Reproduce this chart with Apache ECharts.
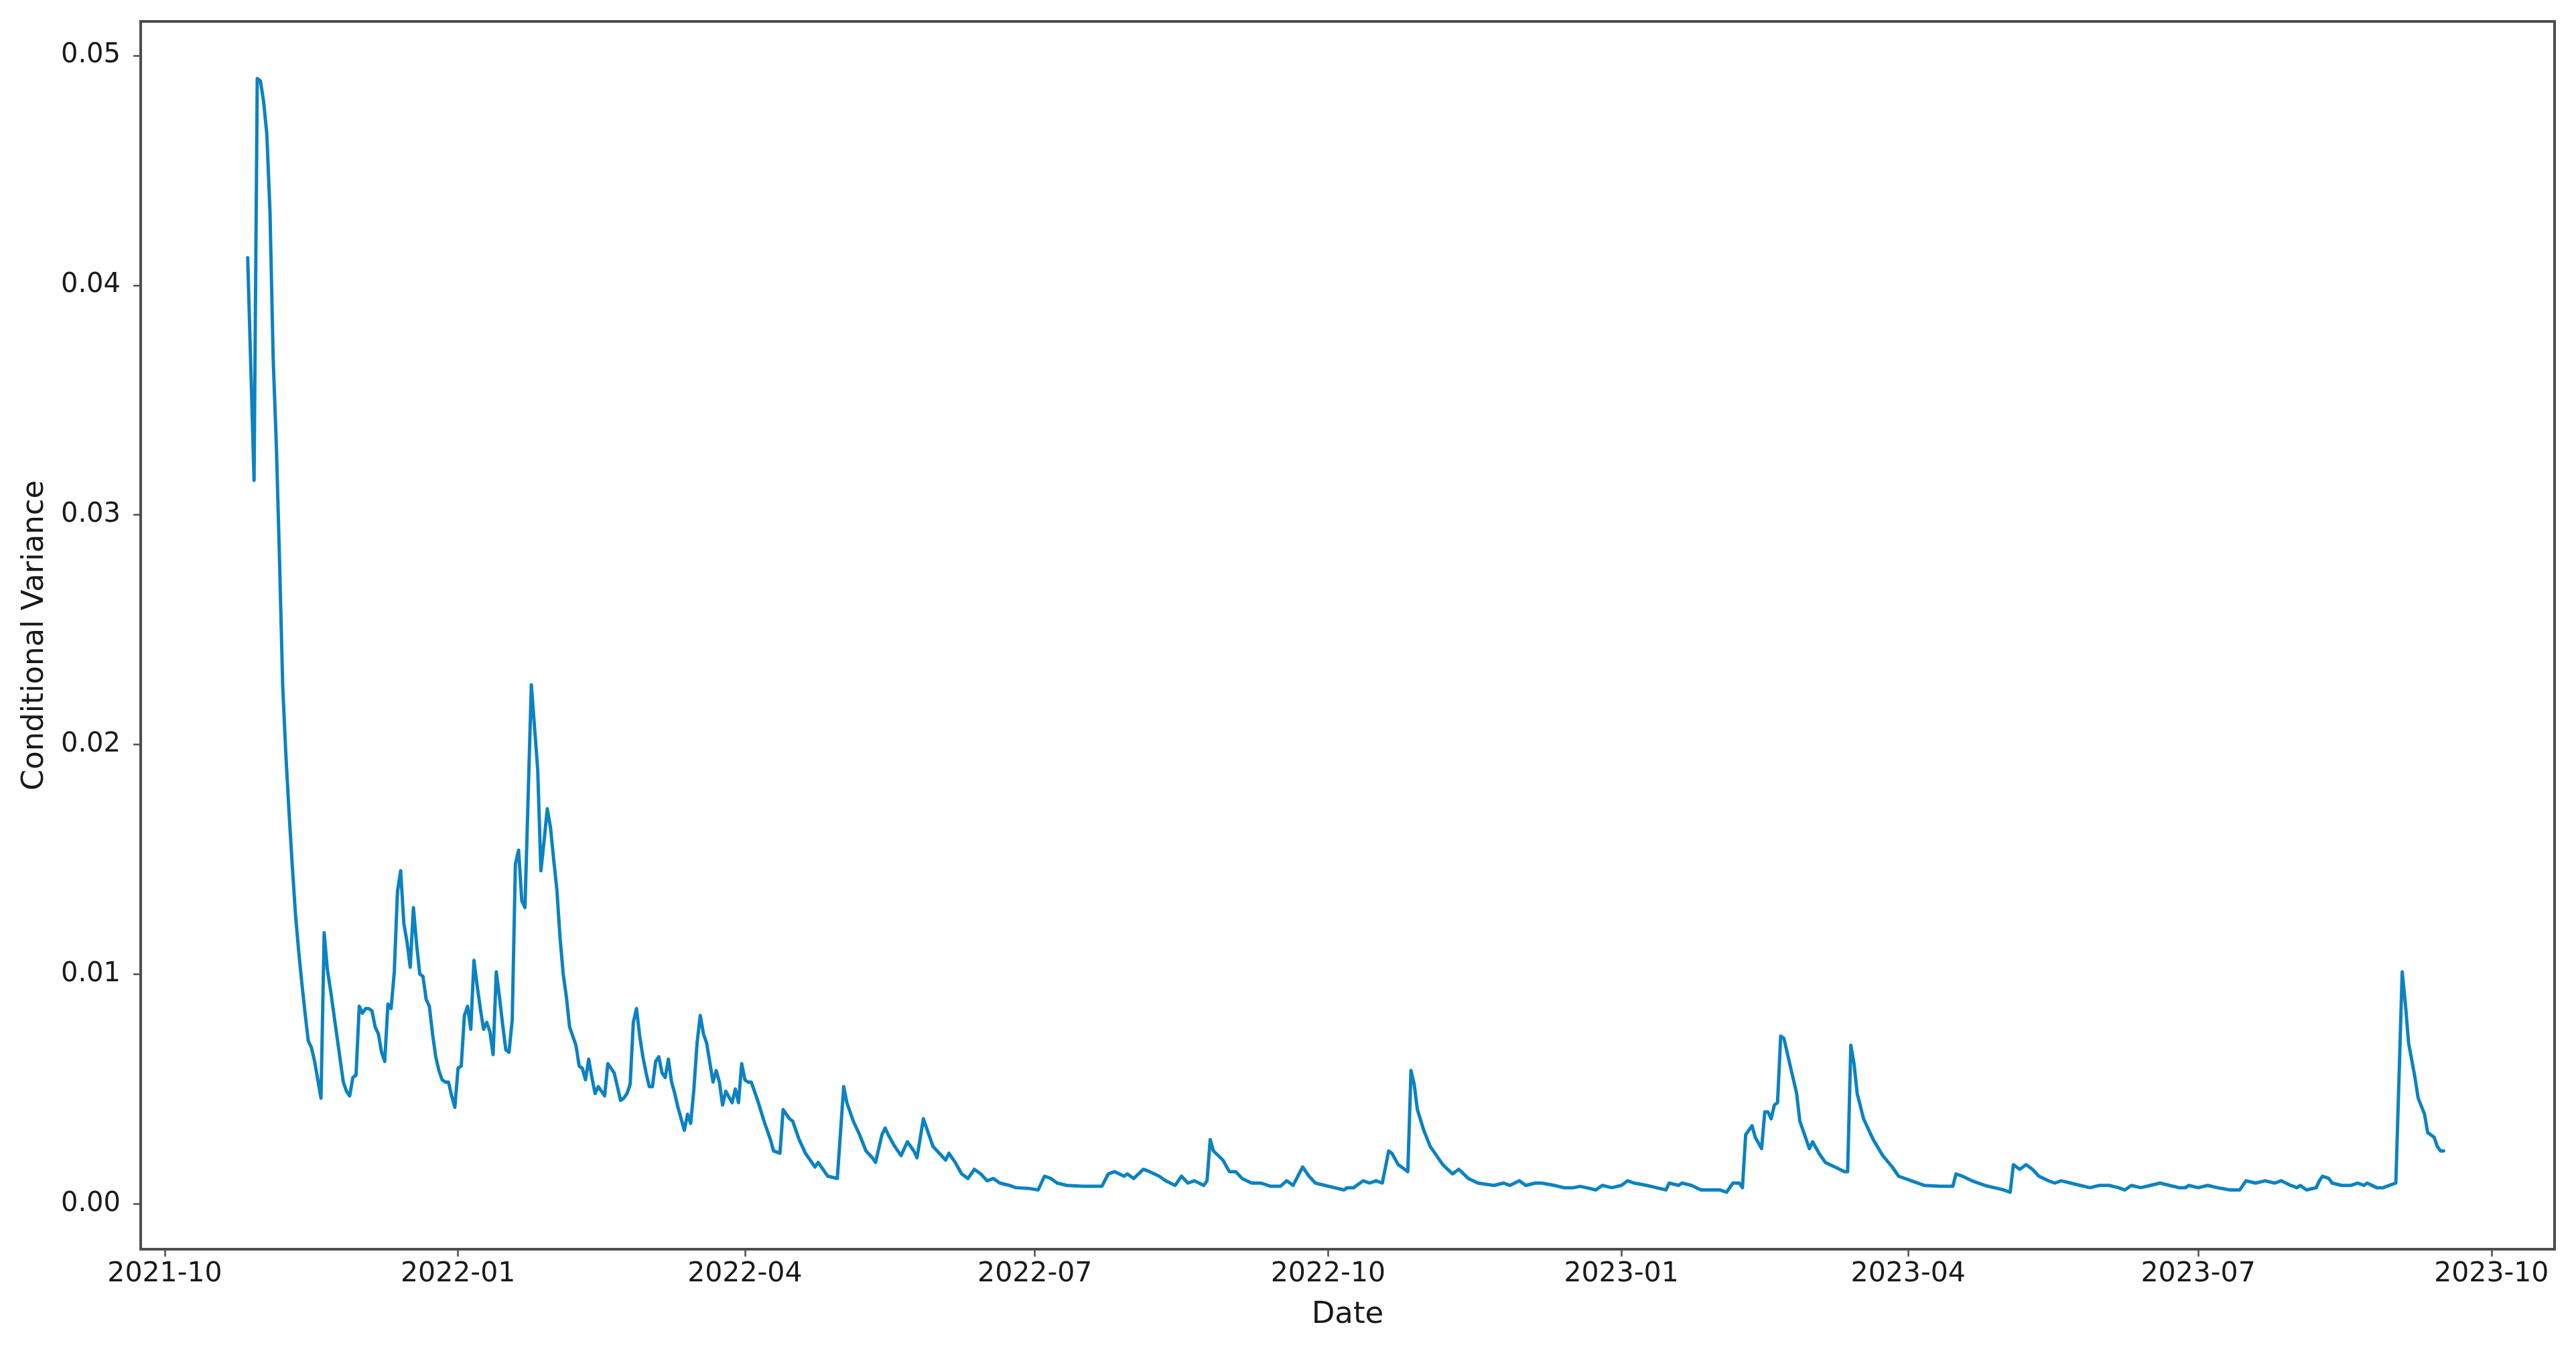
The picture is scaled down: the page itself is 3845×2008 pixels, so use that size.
<!DOCTYPE html>
<html>
<head>
<meta charset="utf-8">
<title>Conditional Variance</title>
<script src="https://cdn.jsdelivr.net/npm/echarts@6/dist/echarts.min.js"></script>
<style>
  html, body { margin: 0; padding: 0; background: #fff; }
  #chart { width: 3845px; height: 2008px; }
</style>
</head>
<body>
<div id="chart"></div>
<script>
// dates (one row per month)
const dates = [
  '2021-10-27', '2021-10-29', '2021-10-30', '2021-10-31',
  '2021-11-01', '2021-11-02', '2021-11-03', '2021-11-04', '2021-11-05', '2021-11-06', '2021-11-07', '2021-11-08', '2021-11-09', '2021-11-10',
  '2021-11-11', '2021-11-12', '2021-11-13', '2021-11-14', '2021-11-15', '2021-11-16', '2021-11-17', '2021-11-18', '2021-11-19', '2021-11-20',
  '2021-11-21', '2021-11-22', '2021-11-23', '2021-11-24', '2021-11-25', '2021-11-26', '2021-11-27', '2021-11-28', '2021-11-29', '2021-11-30',
  '2021-12-01', '2021-12-02', '2021-12-03', '2021-12-04', '2021-12-05', '2021-12-06', '2021-12-07', '2021-12-08', '2021-12-09', '2021-12-10',
  '2021-12-11', '2021-12-12', '2021-12-13', '2021-12-14', '2021-12-15', '2021-12-16', '2021-12-17', '2021-12-18', '2021-12-19', '2021-12-20',
  '2021-12-21', '2021-12-22', '2021-12-23', '2021-12-24', '2021-12-25', '2021-12-26', '2021-12-27', '2021-12-28', '2021-12-29', '2021-12-30', '2021-12-31',
  '2022-01-01', '2022-01-02', '2022-01-03', '2022-01-04', '2022-01-05', '2022-01-06', '2022-01-07', '2022-01-08', '2022-01-09', '2022-01-10',
  '2022-01-11', '2022-01-12', '2022-01-13', '2022-01-14', '2022-01-15', '2022-01-16', '2022-01-17', '2022-01-18', '2022-01-19', '2022-01-20',
  '2022-01-21', '2022-01-22', '2022-01-24', '2022-01-26', '2022-01-27', '2022-01-28', '2022-01-29', '2022-01-30', '2022-01-31',
  '2022-02-01', '2022-02-02', '2022-02-03', '2022-02-04', '2022-02-05', '2022-02-06', '2022-02-07', '2022-02-08', '2022-02-09', '2022-02-10',
  '2022-02-11', '2022-02-12', '2022-02-13', '2022-02-14', '2022-02-15', '2022-02-16', '2022-02-17', '2022-02-18', '2022-02-19', '2022-02-20',
  '2022-02-21', '2022-02-22', '2022-02-23', '2022-02-24', '2022-02-25', '2022-02-26', '2022-02-27', '2022-02-28',
  '2022-03-01', '2022-03-02', '2022-03-03', '2022-03-04', '2022-03-05', '2022-03-06', '2022-03-07', '2022-03-08', '2022-03-09', '2022-03-10',
  '2022-03-11', '2022-03-12', '2022-03-13', '2022-03-14', '2022-03-15', '2022-03-16', '2022-03-17', '2022-03-18', '2022-03-19', '2022-03-20',
  '2022-03-22', '2022-03-23', '2022-03-24', '2022-03-25', '2022-03-26', '2022-03-28', '2022-03-29', '2022-03-30', '2022-03-31',
  '2022-04-01', '2022-04-02', '2022-04-03', '2022-04-05', '2022-04-07', '2022-04-09', '2022-04-10', '2022-04-12', '2022-04-13', '2022-04-15',
  '2022-04-16', '2022-04-18', '2022-04-20', '2022-04-21', '2022-04-23', '2022-04-24', '2022-04-26', '2022-04-27', '2022-04-30',
  '2022-05-02', '2022-05-03', '2022-05-05', '2022-05-07', '2022-05-09', '2022-05-11', '2022-05-12', '2022-05-14', '2022-05-15', '2022-05-16',
  '2022-05-18', '2022-05-20', '2022-05-22', '2022-05-24', '2022-05-25', '2022-05-27', '2022-05-28', '2022-05-30',
  '2022-06-01', '2022-06-03', '2022-06-04', '2022-06-06', '2022-06-08', '2022-06-10', '2022-06-12', '2022-06-14', '2022-06-16', '2022-06-18',
  '2022-06-20', '2022-06-23', '2022-06-25', '2022-06-29',
  '2022-07-02', '2022-07-04', '2022-07-06', '2022-07-08', '2022-07-11', '2022-07-16', '2022-07-22', '2022-07-24', '2022-07-26', '2022-07-29', '2022-07-30',
  '2022-08-01', '2022-08-04', '2022-08-06', '2022-08-09', '2022-08-11', '2022-08-14', '2022-08-16', '2022-08-18', '2022-08-20', '2022-08-23',
  '2022-08-24', '2022-08-25', '2022-08-26', '2022-08-29', '2022-08-31',
  '2022-09-02', '2022-09-04', '2022-09-07', '2022-09-10', '2022-09-13', '2022-09-16', '2022-09-18', '2022-09-20', '2022-09-23', '2022-09-25',
  '2022-09-27', '2022-09-30',
  '2022-10-03', '2022-10-06', '2022-10-07', '2022-10-09', '2022-10-12', '2022-10-14', '2022-10-16', '2022-10-18', '2022-10-20', '2022-10-21',
  '2022-10-23', '2022-10-26', '2022-10-27', '2022-10-28', '2022-10-29', '2022-10-31',
  '2022-11-02', '2022-11-04', '2022-11-06', '2022-11-09', '2022-11-11', '2022-11-14', '2022-11-17', '2022-11-22', '2022-11-25', '2022-11-27', '2022-11-30',
  '2022-12-02', '2022-12-05', '2022-12-07', '2022-12-11', '2022-12-14', '2022-12-17', '2022-12-19', '2022-12-21', '2022-12-24', '2022-12-26', '2022-12-29',
  '2023-01-01', '2023-01-03', '2023-01-05', '2023-01-09', '2023-01-12', '2023-01-15', '2023-01-16', '2023-01-19', '2023-01-20', '2023-01-23',
  '2023-01-26', '2023-01-29',
  '2023-02-01', '2023-02-03', '2023-02-05', '2023-02-07', '2023-02-08', '2023-02-09', '2023-02-11', '2023-02-12', '2023-02-14', '2023-02-15',
  '2023-02-16', '2023-02-17', '2023-02-18', '2023-02-19', '2023-02-20', '2023-02-21', '2023-02-23', '2023-02-25', '2023-02-26',
  '2023-03-01', '2023-03-02', '2023-03-04', '2023-03-06', '2023-03-09', '2023-03-12', '2023-03-13', '2023-03-14', '2023-03-15', '2023-03-16',
  '2023-03-18', '2023-03-20', '2023-03-21', '2023-03-24', '2023-03-27', '2023-03-29',
  '2023-04-02', '2023-04-06', '2023-04-11', '2023-04-15', '2023-04-16', '2023-04-18', '2023-04-21', '2023-04-25', '2023-04-28',
  '2023-05-01', '2023-05-03', '2023-05-04', '2023-05-05', '2023-05-06', '2023-05-08', '2023-05-10', '2023-05-12', '2023-05-15', '2023-05-17',
  '2023-05-19', '2023-05-22', '2023-05-25', '2023-05-28', '2023-05-31',
  '2023-06-03', '2023-06-06', '2023-06-08', '2023-06-10', '2023-06-13', '2023-06-16', '2023-06-19', '2023-06-22', '2023-06-25', '2023-06-27', '2023-06-28',
  '2023-07-01', '2023-07-04', '2023-07-07', '2023-07-11', '2023-07-14', '2023-07-16', '2023-07-19', '2023-07-22', '2023-07-25', '2023-07-27', '2023-07-30',
  '2023-08-01', '2023-08-02', '2023-08-04', '2023-08-07', '2023-08-08', '2023-08-09', '2023-08-11', '2023-08-12', '2023-08-15', '2023-08-18',
  '2023-08-20', '2023-08-22', '2023-08-23', '2023-08-26', '2023-08-28', '2023-08-30',
  '2023-09-01', '2023-09-03', '2023-09-04', '2023-09-05', '2023-09-07', '2023-09-08', '2023-09-10', '2023-09-11', '2023-09-13', '2023-09-14',
  '2023-09-15', '2023-09-16'
];

// conditional variance, same order as dates
const variance = [
  0.0412, 0.0315, 0.0490, 0.0489,
  0.0480, 0.0466, 0.0432, 0.0368, 0.0330, 0.0280, 0.0225, 0.0195, 0.0170, 0.0147,
  0.0126, 0.0110, 0.0096, 0.0083, 0.0071, 0.0068, 0.0062, 0.0054, 0.0046, 0.0118,
  0.0102, 0.0093, 0.0083, 0.0073, 0.0063, 0.0053, 0.0049, 0.0047, 0.0055, 0.0056,
  0.0086, 0.0083, 0.0085, 0.0085, 0.0084, 0.0077, 0.0074, 0.0066, 0.0062, 0.0087,
  0.0085, 0.0101, 0.0136, 0.0145, 0.0122, 0.0114, 0.0103, 0.0129, 0.0113, 0.0100,
  0.0099, 0.0089, 0.0086, 0.0074, 0.0064, 0.0058, 0.0054, 0.0053, 0.0053, 0.0047, 0.0042,
  0.0059, 0.0060, 0.0082, 0.0086, 0.0076, 0.0106, 0.0095, 0.0085, 0.0076, 0.0079,
  0.0075, 0.0065, 0.0101, 0.0090, 0.0078, 0.0067, 0.0066, 0.0080, 0.0148, 0.0154,
  0.0132, 0.0129, 0.0226, 0.0189, 0.0145, 0.0158, 0.0172, 0.0164, 0.0150,
  0.0137, 0.0116, 0.0100, 0.0090, 0.0077, 0.0073, 0.0069, 0.0060, 0.0059, 0.0054,
  0.0063, 0.0055, 0.0048, 0.0051, 0.0049, 0.0047, 0.0061, 0.0059, 0.0057, 0.0051,
  0.0045, 0.0046, 0.0048, 0.0052, 0.0079, 0.0085, 0.0073, 0.0064,
  0.0057, 0.0051, 0.0051, 0.0062, 0.0064, 0.0057, 0.0055, 0.0063, 0.0053, 0.0048,
  0.0042, 0.0037, 0.0032, 0.0039, 0.0035, 0.0050, 0.0070, 0.0082, 0.0074, 0.0070,
  0.0053, 0.0058, 0.0053, 0.0043, 0.0049, 0.0044, 0.0050, 0.0044, 0.0061,
  0.0054, 0.0053, 0.0053, 0.0045, 0.0036, 0.0028, 0.0023, 0.0022, 0.0041, 0.0037,
  0.0036, 0.0028, 0.0022, 0.0020, 0.0016, 0.0018, 0.0014, 0.0012, 0.0011,
  0.0051, 0.0044, 0.0036, 0.0030, 0.0023, 0.0020, 0.0018, 0.0030, 0.0033, 0.0030,
  0.0025, 0.0021, 0.0027, 0.0023, 0.0020, 0.0037, 0.0033, 0.0025,
  0.0022, 0.0019, 0.0022, 0.0018, 0.0013, 0.0011, 0.0015, 0.0013, 0.0010, 0.0011,
  0.0009, 0.0008, 0.0007, 0.00067,
  0.0006, 0.0012, 0.0011, 0.0009, 0.0008, 0.00076, 0.00076, 0.0013, 0.0014, 0.0012, 0.0013,
  0.0011, 0.0015, 0.0014, 0.0012, 0.0010, 0.0008, 0.0012, 0.0009, 0.0010, 0.0008,
  0.0010, 0.0028, 0.0023, 0.0019, 0.0014,
  0.0014, 0.0011, 0.0009, 0.0009, 0.00076, 0.00076, 0.0010, 0.0008, 0.0016, 0.0012,
  0.0009, 0.0008,
  0.0007, 0.0006, 0.0007, 0.0007, 0.0010, 0.0009, 0.0010, 0.0009, 0.0023, 0.0022,
  0.0017, 0.0014, 0.0058, 0.0052, 0.0041, 0.0032,
  0.0025, 0.0021, 0.0017, 0.0013, 0.0015, 0.0011, 0.0009, 0.0008, 0.0009, 0.0008, 0.0010,
  0.0008, 0.0009, 0.0009, 0.0008, 0.0007, 0.0007, 0.00076, 0.0007, 0.0006, 0.0008, 0.0007,
  0.0008, 0.0010, 0.0009, 0.0008, 0.0007, 0.0006, 0.0009, 0.0008, 0.0009, 0.0008,
  0.0006, 0.0006,
  0.0006, 0.0005, 0.0009, 0.0009, 0.0007, 0.0030, 0.0034, 0.0029, 0.0024, 0.0040,
  0.0040, 0.0037, 0.0043, 0.0044, 0.0073, 0.0072, 0.0060, 0.0048, 0.0036,
  0.0024, 0.0027, 0.0022, 0.0018, 0.0016, 0.0014, 0.0014, 0.0069, 0.0061, 0.0048,
  0.0037, 0.0031, 0.0028, 0.0021, 0.0016, 0.0012,
  0.0010, 0.0008, 0.00076, 0.00076, 0.0013, 0.0012, 0.0010, 0.0008, 0.0007,
  0.0006, 0.0005, 0.0017, 0.0016, 0.0015, 0.0017, 0.0015, 0.0012, 0.0010, 0.0009,
  0.0010, 0.0009, 0.0008, 0.0007, 0.0008,
  0.0008, 0.0007, 0.0006, 0.0008, 0.0007, 0.0008, 0.0009, 0.0008, 0.0007, 0.0007, 0.0008,
  0.0007, 0.0008, 0.0007, 0.0006, 0.0006, 0.0010, 0.0009, 0.0010, 0.0009, 0.0010, 0.0008,
  0.0007, 0.0008, 0.0006, 0.0007, 0.0010, 0.0012, 0.0011, 0.0009, 0.0008, 0.0008,
  0.0009, 0.0008, 0.0009, 0.0007, 0.0007, 0.0008,
  0.0009, 0.0101, 0.0087, 0.0070, 0.0055, 0.0046, 0.0039, 0.0031, 0.0029, 0.0025,
  0.0023, 0.0023
];

const xTicks = ['2021-10-01', '2022-01-01', '2022-04-01', '2022-07-01', '2022-10-01',
                '2023-01-01', '2023-04-01', '2023-07-01', '2023-10-01'];
const yTicks = [0, 0.01, 0.02, 0.03, 0.04, 0.05];

function toTime(s) {
  const p = s.split('-').map(Number);
  return new Date(p[0], p[1] - 1, p[2]).getTime();
}

function monthLabel(v) {
  const d = new Date(v);
  return d.getFullYear() + '-' + String(d.getMonth() + 1).padStart(2, '0');
}

const DAY = 86400000;
const origin = toTime('2021-10-01');
const textColor = '#1a1a1a';
const frameColor = '#4d4d4d';
const lineColor = '#0a82c3';
const xTickValues = xTicks.map(toTime);

const chart = echarts.init(document.getElementById('chart'));

const option = {
  animation: false,
  backgroundColor: '#ffffff',
  grid: {
    left: 210,
    right: 32,
    top: 32,
    bottom: 143,
    show: true,
    borderColor: frameColor,
    borderWidth: 4,
    backgroundColor: 'transparent'
  },
  xAxis: {
    // timestamps on a plain value axis, ticks placed at quarter starts
    type: 'value',
    min: origin - 7.57 * DAY,
    max: origin + 749.8 * DAY,
    name: 'Date',
    nameLocation: 'middle',
    nameGap: 76,
    nameTextStyle: { fontFamily: 'DejaVu Sans', fontSize: 45, color: textColor },
    axisLine: { show: false, onZero: false },
    axisTick: {
      show: true,
      length: 11,
      customValues: xTickValues,
      lineStyle: { color: frameColor, width: 2.5 }
    },
    axisLabel: {
      customValues: xTickValues,
      formatter: monthLabel,
      margin: 17,
      fontFamily: 'DejaVu Sans',
      fontSize: 41,
      color: textColor
    },
    splitLine: { show: false }
  },
  yAxis: {
    type: 'value',
    min: -0.00198,
    max: 0.05149,
    name: 'Conditional Variance',
    nameLocation: 'middle',
    nameGap: 135,
    nameTextStyle: { fontFamily: 'DejaVu Sans', fontSize: 45, color: textColor },
    axisLine: { show: false, onZero: false },
    axisTick: {
      show: true,
      length: 11,
      customValues: yTicks,
      lineStyle: { color: frameColor, width: 2.5 }
    },
    axisLabel: {
      customValues: yTicks,
      formatter: v => v.toFixed(2),
      margin: 30,
      fontFamily: 'DejaVu Sans',
      fontSize: 40,
      color: textColor
    },
    splitLine: { show: false }
  },
  series: [
    {
      name: 'Conditional Variance',
      type: 'line',
      data: dates.map((d, i) => [toTime(d), variance[i]]),
      showSymbol: false,
      symbol: 'none',
      color: lineColor,
      lineStyle: { color: lineColor, width: 5, join: 'round', cap: 'round' }
    }
  ]
};

chart.setOption(option);
</script>
</body>
</html>
